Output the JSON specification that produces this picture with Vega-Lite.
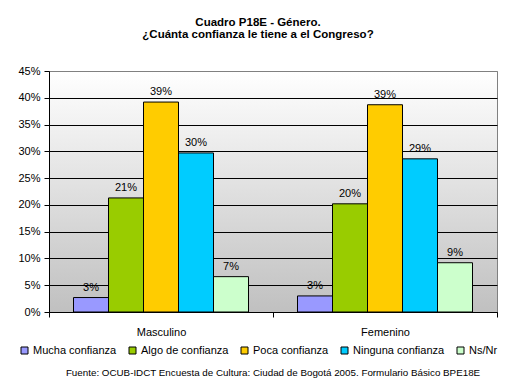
{
  "$schema": "https://vega.github.io/schema/vega-lite/v6.json",
  "background": "white",
  "padding": {"left": 17, "top": 17, "right": 10, "bottom": 5},
  "title": {
    "text": ["Cuadro P18E - Género.", "¿Cuánta confianza le tiene a el Congreso?"],
    "font": "Liberation Sans",
    "fontSize": 11.5,
    "fontWeight": "bold",
    "lineHeight": 12,
    "anchor": "middle",
    "offset": 24,
    "color": "black"
  },
  "resolve": {"scale": {"color": "independent"}, "legend": {"color": "independent"}},
  "vconcat": [
    {
      "width": 448,
      "height": 241,
      "title": {
        "text": "Fuente: OCUB-IDCT Encuesta de Cultura: Ciudad de Bogotá 2005. Formulario Básico BPE18E",
        "orient": "bottom",
        "font": "Liberation Sans",
        "fontSize": 9.8,
        "fontWeight": "normal",
        "anchor": "middle",
        "offset": 12,
        "color": "black"
      },
      "data": {
        "values": [
          {"genero": "Masculino", "respuesta": "Mucha confianza", "valor": 0.027},
          {"genero": "Masculino", "respuesta": "Algo de confianza", "valor": 0.213},
          {"genero": "Masculino", "respuesta": "Poca confianza", "valor": 0.392},
          {"genero": "Masculino", "respuesta": "Ninguna confianza", "valor": 0.297},
          {"genero": "Masculino", "respuesta": "Ns/Nr", "valor": 0.066},
          {"genero": "Femenino", "respuesta": "Mucha confianza", "valor": 0.030},
          {"genero": "Femenino", "respuesta": "Algo de confianza", "valor": 0.202},
          {"genero": "Femenino", "respuesta": "Poca confianza", "valor": 0.387},
          {"genero": "Femenino", "respuesta": "Ninguna confianza", "valor": 0.286},
          {"genero": "Femenino", "respuesta": "Ns/Nr", "valor": 0.092}
        ]
      },
      "encoding": {
        "x": {
          "field": "genero",
          "type": "nominal",
          "sort": ["Masculino", "Femenino"],
          "scale": {"paddingInner": 0, "paddingOuter": 0},
          "axis": {
            "title": null,
            "labelAngle": 0,
            "labelFont": "Liberation Sans",
            "labelFontSize": 11,
            "labelColor": "black",
            "labelPadding": 9,
            "tickBand": "extent",
            "tickColor": "black",
            "tickSize": 5,
            "domainColor": "black",
            "grid": false
          }
        },
        "xOffset": {
          "field": "respuesta",
          "type": "nominal",
          "sort": ["Mucha confianza", "Algo de confianza", "Poca confianza", "Ninguna confianza", "Ns/Nr"],
          "scale": {"paddingInner": 0, "paddingOuter": 0.7}
        },
        "y": {
          "field": "valor",
          "type": "quantitative",
          "scale": {"domain": [0, 0.45], "nice": false},
          "axis": {
            "title": null,
            "values": [0, 0.05, 0.1, 0.15, 0.2, 0.25, 0.3, 0.35, 0.4, 0.45],
            "format": ".0%",
            "labelFont": "Liberation Sans",
            "labelFontSize": 11,
            "labelColor": "black",
            "labelPadding": 4,
            "tickColor": "black",
            "tickSize": 5,
            "domainColor": "black",
            "grid": true,
            "gridColor": {"condition": {"test": "datum.value >= 0.45", "value": "#808080"}, "value": "black"},
            "gridOpacity": 1
          }
        }
      },
      "layer": [
        {
          "mark": {"type": "bar", "stroke": "black", "strokeWidth": 1},
          "encoding": {
            "color": {
              "field": "respuesta",
              "type": "nominal",
              "scale": {
                "domain": ["Mucha confianza", "Algo de confianza", "Poca confianza", "Ninguna confianza", "Ns/Nr"],
                "range": ["#9999FF", "#99CC00", "#FFCC00", "#00CCFF", "#CCFFCC"]
              },
              "legend": {
                "title": null,
                "orient": "none",
                "legendX": -30,
                "legendY": 274,
                "direction": "horizontal",
                "columns": 5,
                "symbolType": "square",
                "symbolSize": 49,
                "symbolStrokeColor": "black",
                "symbolStrokeWidth": 1,
                "symbolOpacity": 1,
                "labelFont": "Liberation Sans",
                "labelFontSize": 11,
                "labelColor": "black",
                "labelOffset": 3,
                "columnPadding": 10,
                "padding": 0
              }
            }
          }
        },
        {
          "mark": {"type": "text", "baseline": "bottom", "dy": -5, "font": "Liberation Sans", "fontSize": 11, "color": "black"},
          "encoding": {
            "text": {"field": "valor", "type": "quantitative", "format": ".0%"}
          }
        }
      ]
    }
  ],
  "config": {
    "view": {
      "stroke": "#808080",
      "fill": {
        "gradient": "linear",
        "x1": 0, "y1": 0, "x2": 0, "y2": 1,
        "stops": [{"offset": 0, "color": "#ffffff"}, {"offset": 1, "color": "#c0c0c0"}]
      }
    }
  }
}
